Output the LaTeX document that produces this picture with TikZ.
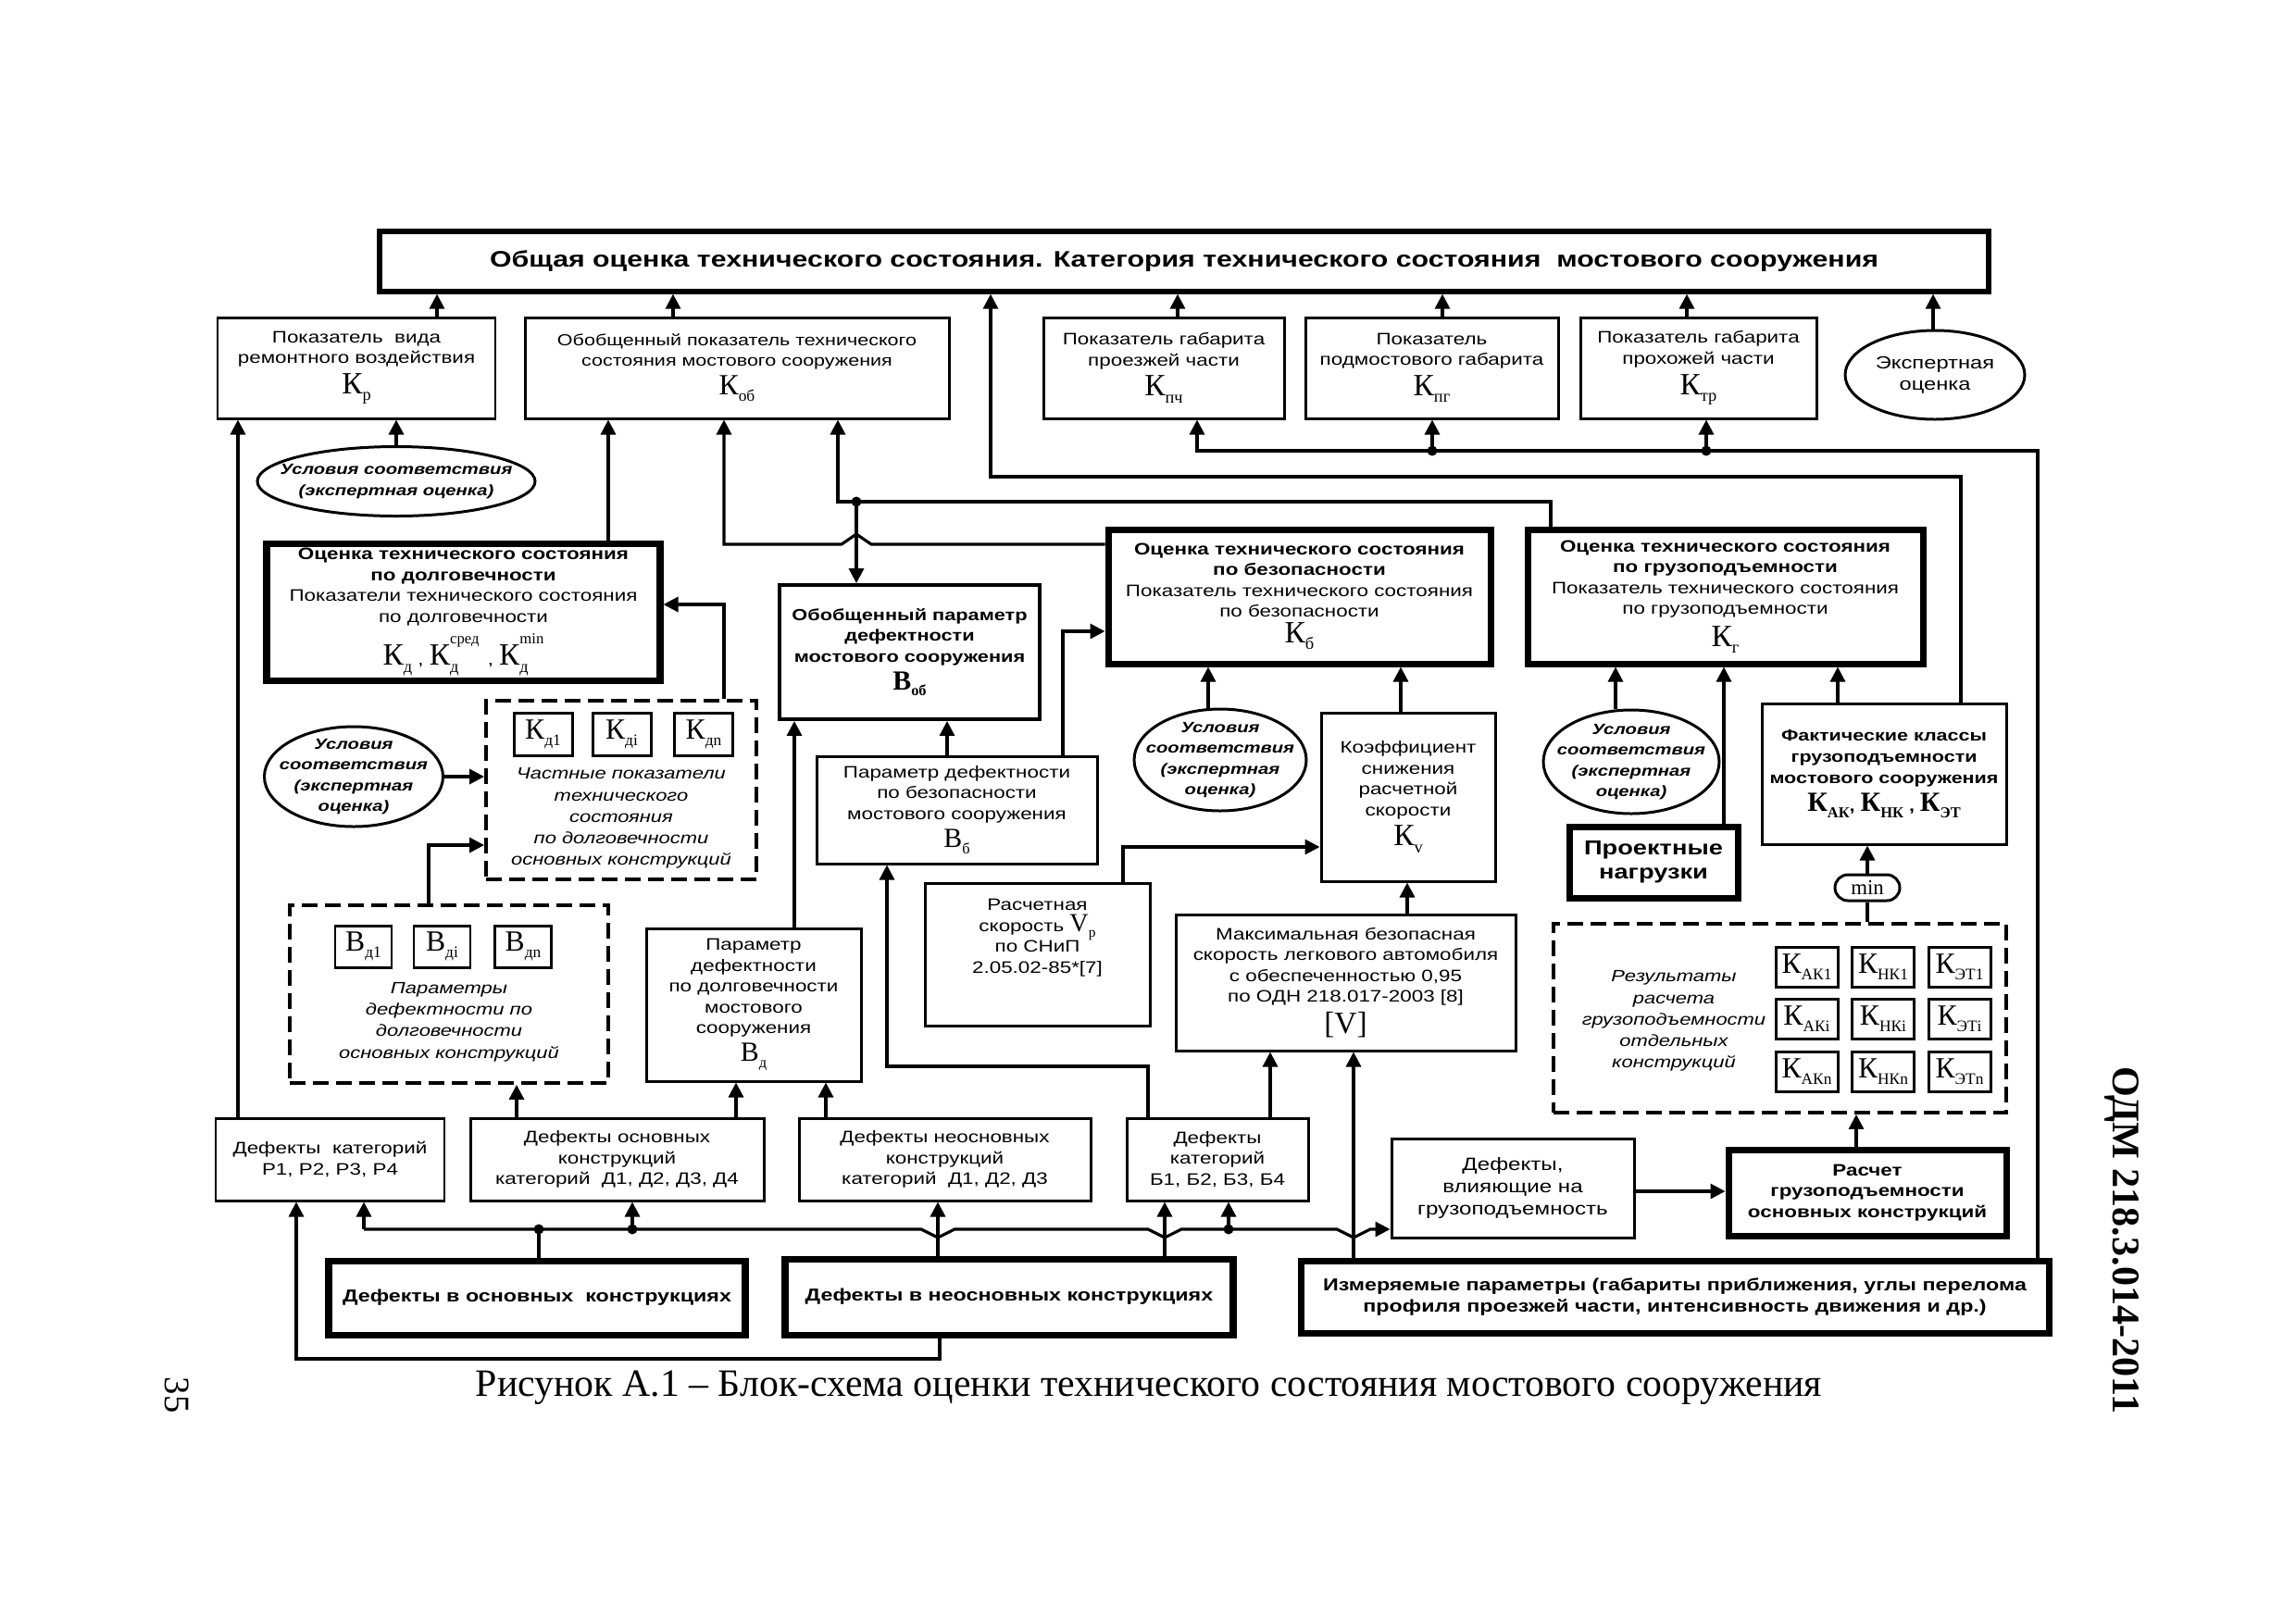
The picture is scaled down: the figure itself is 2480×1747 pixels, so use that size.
\documentclass[tikz,border=0pt]{standalone}
\usepackage{graphicx}
\usepackage{fontspec}
\setmainfont{Liberation Sans}[FakeStretch=1.25]
\newfontfamily\serif{Liberation Serif}
\usetikzlibrary{arrows.meta,shapes.geometric}
\newcommand\KK[3][9.5]{{\fontsize{#1}{#1}\selectfont\serif #2\raisebox{-0.22em}{\scalebox{0.55}{#3}}}}
\newcommand\KKs[4][9.5]{{\fontsize{#1}{#1}\selectfont\serif #2\rlap{\raisebox{-0.22em}{\scalebox{0.55}{#3}}}\raisebox{0.7em}{\scalebox{0.5}{#4}}}}
\tikzset{
  bx/.style={draw, line width=0.85pt, inner sep=0pt, align=center, font=\fontsize{5.1}{6.4}\selectfont},
  tbx/.style={bx, line width=2pt},
  dbx/.style={draw, line width=1.1pt, dash pattern=on 1.7mm off 0.8mm, inner sep=0pt},
  ell/.style={draw, ellipse, line width=0.85pt, inner sep=0pt},
  etxt/.style={align=center, inner sep=0pt, font=\fontsize{4.6}{6.4}\selectfont\bfseries\itshape},
  itx/.style={align=center, inner sep=0pt, font=\fontsize{5}{6.6}\selectfont\itshape},
  sbx/.style={draw, line width=0.85pt, inner sep=0pt, minimum width=6.3mm, minimum height=4.6mm},
  ln/.style={line width=0.9pt},
  arr/.style={ln, -{Triangle[length=1.6mm,width=1.6mm]}},
  dot/.style={fill, circle, inner sep=0pt, minimum size=1.1mm}
}
\begin{document}
\begin{tikzpicture}[x=0.1mm, y=-0.1mm]
\useasboundingbox (0,0) rectangle (2480,1747);
\fill[white] (0,0) rectangle (2480,1747);

% ---------- top row ----------
\node[tbx, line width=1.5pt, minimum width=173.8mm, minimum height=6.5mm, font=\fontsize{6.9}{7.2}\selectfont\bfseries] (top) at (1279,282.5) {Общая оценка технического состояния. Категория технического состояния\ \ мостового сооружения};

\node[bx, minimum width=30mm, minimum height=10.9mm] (Kp) at (385,397.5) {Показатель\ \ вида\\ремонтного воздействия\\[1pt]\KK{К}{р}};
\node[bx, minimum width=45.8mm, minimum height=10.9mm, font=\fontsize{4.9}{6.2}\selectfont] (Kob) at (796,397.5) {Обобщенный показатель технического\\состояния мостового сооружения\\[1pt]\KK[9]{К}{об}};
\node[bx, minimum width=26mm, minimum height=10.9mm] (Kpch) at (1257,397.5) {Показатель габарита\\проезжей части\\[1pt]\KK{К}{пч}};
\node[bx, minimum width=27.3mm, minimum height=10.9mm] (Kpg) at (1546.5,397.5) {Показатель\\подмостового габарита\\[1pt]\KK{К}{пг}};
\node[bx, minimum width=25.5mm, minimum height=10.9mm] (Ktr) at (1834.5,397.5) {Показатель габарита\\прохожей части\\[1pt]\KK{К}{тр}};
\node[ell, minimum width=19.4mm, minimum height=9.6mm, label={[align=center, inner sep=0pt, font=\fontsize{5.4}{6.6}\selectfont]center:{Экспертная\\оценка}}] (E5) at (2090,405) {};

\node[ell, minimum width=30mm, minimum height=7.5mm, label={[etxt]center:{Условия соответствия\\(экспертная оценка)}}] (E1) at (428,520) {};

% ---------- assessment boxes ----------
\node[tbx, minimum width=42.5mm, minimum height=14.8mm] (Dolg) at (500.5,661) {\textbf{Оценка технического состояния}\\\textbf{по долговечности}\\Показатели технического состояния\\по долговечности\\[1.5pt]\KK{К}{д} , \KKs{К}{д}{сред}\, , \KKs{К}{д}{min}};
\node[bx, line width=1.1pt, minimum width=28.1mm, minimum height=14.5mm, font=\fontsize{4.95}{6.4}\selectfont\bfseries] (ObPar) at (982.5,704.5) {Обобщенный параметр\\дефектности\\мостового сооружения\\[1pt]\KK[8.5]{В}{об}};
\node[tbx, minimum width=41.3mm, minimum height=14.5mm] (Bez) at (1403.5,644.5) {\textbf{Оценка технического состояния}\\\textbf{по безопасности}\\Показатель технического состояния\\по безопасности\\[1.5pt]\KK{К}{б}};
\node[tbx, minimum width=42.7mm, minimum height=14.5mm] (Gruz) at (1863.5,644.5) {\textbf{Оценка технического состояния}\\\textbf{по грузоподъемности}\\Показатель технического состояния\\по грузоподъемности\\[1.5pt]\KK{К}{г}};

% ---------- middle ----------
\node[ell, minimum width=19.3mm, minimum height=10.8mm, label={[etxt]center:{Условия\\соответствия\\(экспертная\\оценка)}}] (E2) at (382,839) {};
\node[dbx, minimum width=29.2mm, minimum height=19.3mm] (D1) at (671,853.5) {};
\node[sbx] (kd1) at (586.5,793.5) {\KK[9]{К}{д1}};
\node[sbx] (kdi) at (671.5,793.5) {\KK[9]{К}{дi}};
\node[sbx] (kdn) at (760,793.5) {\KK[9]{К}{дn}};
\node[itx] (D1t) at (671,884) {Частные показатели\\технического\\состояния\\по долговечности\\основных конструкций};

\node[bx, minimum width=30.3mm, minimum height=11.6mm] (PB) at (1033.5,875) {Параметр дефектности\\по безопасности\\мостового сооружения\\[1pt]\KK[8.5]{В}{б}};
\node[ell, minimum width=18.6mm, minimum height=11mm, label={[etxt]center:{Условия\\соответствия\\(экспертная\\оценка)}}] (E3) at (1318,821) {};
\node[bx, minimum width=18.8mm, minimum height=18.2mm] (Koef) at (1521,861) {Коэффициент\\снижения\\расчетной\\скорости\\[1pt]\KK{К}{v}};
\node[ell, minimum width=19mm, minimum height=11.2mm, label={[etxt]center:{Условия\\соответствия\\(экспертная\\оценка)}}] (E4) at (1762,823) {};
\node[bx, minimum width=26.4mm, minimum height=15.2mm, font=\fontsize{4.9}{6.5}\selectfont\bfseries] (Fakt) at (2035,836) {Фактические классы\\грузоподъемности\\мостового сооружения\\[1pt]\KK[8.5]{К}{АК}, \KK[8.5]{К}{НК} , \KK[8.5]{К}{ЭТ}};
\node[tbx, minimum width=18.2mm, minimum height=7.7mm, font=\fontsize{6.2}{7.4}\selectfont\bfseries] (Proekt) at (1786,931.5) {Проектные\\нагрузки};
\node[draw, rounded corners=1.4mm, line width=0.85pt, minimum width=7mm, minimum height=2.8mm, inner sep=0pt, font=\serif\fontsize{6.5}{6.5}\selectfont] (mn) at (2017,959) {min};

\node[dbx, minimum width=34.4mm, minimum height=19.2mm] (D2) at (485,1074) {};
\node[sbx, minimum width=6.1mm, minimum height=4.5mm] (bd1) at (392.5,1022.5) {\KK[9]{В}{д1}};
\node[sbx, minimum width=6.1mm, minimum height=4.5mm] (bdi) at (477.5,1022.5) {\KK[9]{В}{дi}};
\node[sbx, minimum width=6.1mm, minimum height=4.5mm] (bdn) at (565,1022.5) {\KK[9]{В}{дn}};
\node[itx] (D2t) at (485,1104) {Параметры\\дефектности по\\долговечности\\основных конструкций};

\node[bx, minimum width=23.2mm, minimum height=16.5mm] (Bd) at (814,1085.5) {Параметр\\дефектности\\по долговечности\\мостового\\сооружения\\[1pt]\KK[8.5]{В}{д}};
\node[bx, minimum width=24.3mm, minimum height=15.4mm, label={[align=center, inner sep=0pt, yshift=1.8mm, font=\fontsize{5.1}{6.4}\selectfont]center:{Расчетная\\скорость \KK[8]{V}{р}\\по СНиП\\2.05.02-85*[7]}}] (Rasch) at (1120.5,1031) {};
\node[bx, minimum width=36.7mm, minimum height=14.7mm] (Max) at (1453.5,1061.5) {Максимальная безопасная\\скорость легкового автомобиля\\с обеспеченностью 0,95\\по ОДН 218.017-2003 [8]\\[1pt]{\fontsize{9.5}{9.5}\selectfont\serif [V]}};

\node[dbx, minimum width=48.9mm, minimum height=20.4mm] (D3) at (1922.5,1100) {};
\node[itx] (D3t) at (1808,1103) {Результаты\\расчета\\грузоподъемности\\отдельных\\конструкций};
\node[sbx, minimum width=6.7mm, minimum height=4.3mm] (r11) at (1951.5,1045) {\KK[9]{К}{АК1}};
\node[sbx, minimum width=6.7mm, minimum height=4.3mm] (r12) at (2034,1045) {\KK[9]{К}{НК1}};
\node[sbx, minimum width=6.7mm, minimum height=4.3mm] (r13) at (2116.5,1045) {\KK[9]{К}{ЭТ1}};
\node[sbx, minimum width=6.7mm, minimum height=4.3mm] (r21) at (1951.5,1101) {\KK[9]{К}{АКi}};
\node[sbx, minimum width=6.7mm, minimum height=4.3mm] (r22) at (2034,1101) {\KK[9]{К}{НКi}};
\node[sbx, minimum width=6.7mm, minimum height=4.3mm] (r23) at (2116.5,1101) {\KK[9]{К}{ЭТi}};
\node[sbx, minimum width=6.7mm, minimum height=4.3mm] (r31) at (1951.5,1157.5) {\KK[9]{К}{АКn}};
\node[sbx, minimum width=6.7mm, minimum height=4.3mm] (r32) at (2034,1157.5) {\KK[9]{К}{НКn}};
\node[sbx, minimum width=6.7mm, minimum height=4.3mm] (r33) at (2116.5,1157.5) {\KK[9]{К}{ЭТn}};

% ---------- defects row ----------
\node[bx, minimum width=24.7mm, minimum height=8.9mm] (P) at (356.5,1252.5) {Дефекты\ \ категорий\\Р1, Р2, Р3, Р4};
\node[bx, minimum width=31.7mm, minimum height=8.9mm] (DO) at (666.5,1252.5) {Дефекты основных\\конструкций\\категорий\ \ Д1, Д2, Д3, Д4};
\node[bx, minimum width=31.5mm, minimum height=8.9mm] (DN) at (1020.5,1252.5) {Дефекты неосновных\\конструкций\\категорий\ \ Д1, Д2, Д3};
\node[bx, minimum width=19.6mm, minimum height=8.9mm] (DB) at (1315,1252.5) {Дефекты\\категорий\\Б1, Б2, Б3, Б4};
\node[bx, minimum width=26.2mm, minimum height=10.7mm, font=\fontsize{5.5}{6.8}\selectfont] (DV) at (1634,1283.5) {Дефекты,\\влияющие на\\грузоподъемность};
\node[tbx, minimum width=30mm, minimum height=9.3mm, font=\fontsize{5.1}{6.4}\selectfont\bfseries] (Rgr) at (2017,1288.5) {Расчет\\грузоподъемности\\основных конструкций};

\node[tbx, minimum width=45mm, minimum height=8mm, font=\fontsize{5.3}{6.5}\selectfont\bfseries] (DVO) at (580,1402) {Дефекты в основных\ \ конструкциях};
\node[tbx, minimum width=48.4mm, minimum height=8.2mm, font=\fontsize{5.3}{6.5}\selectfont\bfseries] (DVN) at (1090,1401) {Дефекты в неосновных конструкциях};
\node[tbx, minimum width=80.8mm, minimum height=7.8mm, font=\fontsize{5.3}{6.5}\selectfont\bfseries] (Izm) at (1809,1401) {Измеряемые параметры (габариты приближения, углы перелома\\профиля проезжей части, интенсивность движения и др.)};

% ---------- captions ----------
\node[font=\serif\fontsize{11.9}{12}\selectfont] (cap) at (1241,1499) {Рисунок А.1 – Блок-схема оценки технического состояния мостового сооружения};
\node[rotate=-90, font=\serif\bfseries\fontsize{12}{12}\selectfont] (odm) at (2292,1340) {ОДМ 218.3.014-2011};
\node[rotate=-90, font=\serif\fontsize{11}{11}\selectfont] (pg) at (191,1507) {35};

% ---------- connectors: to top ----------
\draw[arr] (Kp.north -| 472,0) -- (top.south -| 472,0);
\draw[arr] (Kob.north -| 727,0) -- (top.south -| 727,0);
\draw[arr] (Kpch.north -| 1272,0) -- (top.south -| 1272,0);
\draw[arr] (Kpg.north -| 1558,0) -- (top.south -| 1558,0);
\draw[arr] (Ktr.north -| 1822,0) -- (top.south -| 1822,0);
\draw[arr] (E5.north -| 2088,0) -- (top.south -| 2088,0);
\draw[arr] (Fakt.north -| 2118,0) |- (1070,515) -- (top.south -| 1070,0);

% gabarit indicators from measured parameters
\draw[arr] (Izm.north -| 2201,0) |- (1293,487) -- (Kpch.south -| 1293,0);
\draw[arr] (1547,487) -- (Kpg.south -| 1547,0);
\draw[arr] (1843,487) -- (Ktr.south -| 1843,0);
\node[dot] (j1) at (1547,487) {};
\node[dot] (j2) at (1843,487) {};

% to Kp and Kob
\draw[arr] (P.north -| 257,0) -- (Kp.south -| 257,0);
\draw[arr] (E1.north -| 428,0) -- (Kp.south -| 428,0);
\draw[arr] (Dolg.north -| 657,0) -- (Kob.south -| 657,0);
\draw[arr] (Bez.west |- 0,588) -- (941,588) -- (925,577) -- (909,588) -- (782,588) -- (Kob.south -| 782,0);
\draw[arr] (Gruz.north -| 1675,0) |- (905,542) -- (Kob.south -| 905,0);
\draw[arr] (925,542) -- (ObPar.north -| 925,0);
\node[dot] (j3) at (925,542) {};

% durability
\draw[arr] (D1.north -| 782,0) |- (Dolg.east |- 0,653);
\draw[arr] (E2.east) -- (D1.west |- E2.east);
\draw[arr] (D2.north -| 463,0) |- (D1.west |- 0,913);
\draw[arr] (DO.north -| 558,0) -- (D2.south -| 558,0);
\draw[arr] (DO.north -| 795,0) -- (Bd.south -| 795,0);
\draw[arr] (DN.north -| 892,0) -- (Bd.south -| 892,0);
\draw[arr] (Bd.north -| 858,0) -- (ObPar.south -| 858,0);

% safety
\draw[arr] (PB.north -| 1023,0) -- (ObPar.south -| 1023,0);
\draw[arr] (PB.north -| 1148,0) |- (Bez.west |- 0,682);
\draw[arr] (DB.north -| 1240,0) |- (958,1152) -- (PB.south -| 958,0);
\draw[arr] (Rasch.north -| 1213,0) |- (Koef.west |- 0,915);
\draw[arr] (E3.north -| 1305,0) -- (Bez.south -| 1305,0);
\draw[arr] (Koef.north -| 1513,0) -- (Bez.south -| 1513,0);
\draw[arr] (Max.north -| 1520,0) -- (Koef.south -| 1520,0);
\draw[arr] (DB.north -| 1372,0) -- (Max.south -| 1372,0);
\draw[arr] (Izm.north -| 1462,0) -- (Max.south -| 1462,0);

% load capacity
\draw[arr] (E4.north -| 1745,0) -- (Gruz.south -| 1745,0);
\draw[arr] (Proekt.north -| 1862,0) -- (Gruz.south -| 1862,0);
\draw[arr] (Fakt.north -| 1985,0) -- (Gruz.south -| 1985,0);
\draw[arr] (mn.north) -- (Fakt.south -| mn.north);
\draw[ln] (D3.north -| mn.south) -- (mn.south);
\draw[arr] (Rgr.north -| 2005,0) -- (D3.south -| 2005,0);
\draw[arr] (DV.east |- 0,1287) -- (Rgr.west |- 0,1287);

% bottom bus
\draw[ln] (DVO.north -| 582,0) -- (582,1328);
\draw[arr] (393,1328) -- (995,1328) -- (1013,1337) -- (1031,1328) -- (1240,1328) -- (1258,1337) -- (1276,1328) -- (1444,1328) -- (1462,1337) -- (1480,1328) -- (DV.west |- 0,1328);
\draw[arr] (393,1328) -- (P.south -| 393,0);
\draw[arr] (683,1328) -- (DO.south -| 683,0);
\draw[arr] (1327,1328) -- (DB.south -| 1327,0);
\node[dot] (j4) at (582,1328) {};
\node[dot] (j5) at (683,1328) {};
\node[dot] (j6) at (1327,1328) {};
\draw[arr] (DVN.north -| 1013,0) -- (DN.south -| 1013,0);
\draw[arr] (DVN.north -| 1258,0) -- (DB.south -| 1258,0);
\draw[arr] (DVN.south -| 1015,0) |- (320,1468) -- (P.south -| 320,0);
\end{tikzpicture}
\end{document}
